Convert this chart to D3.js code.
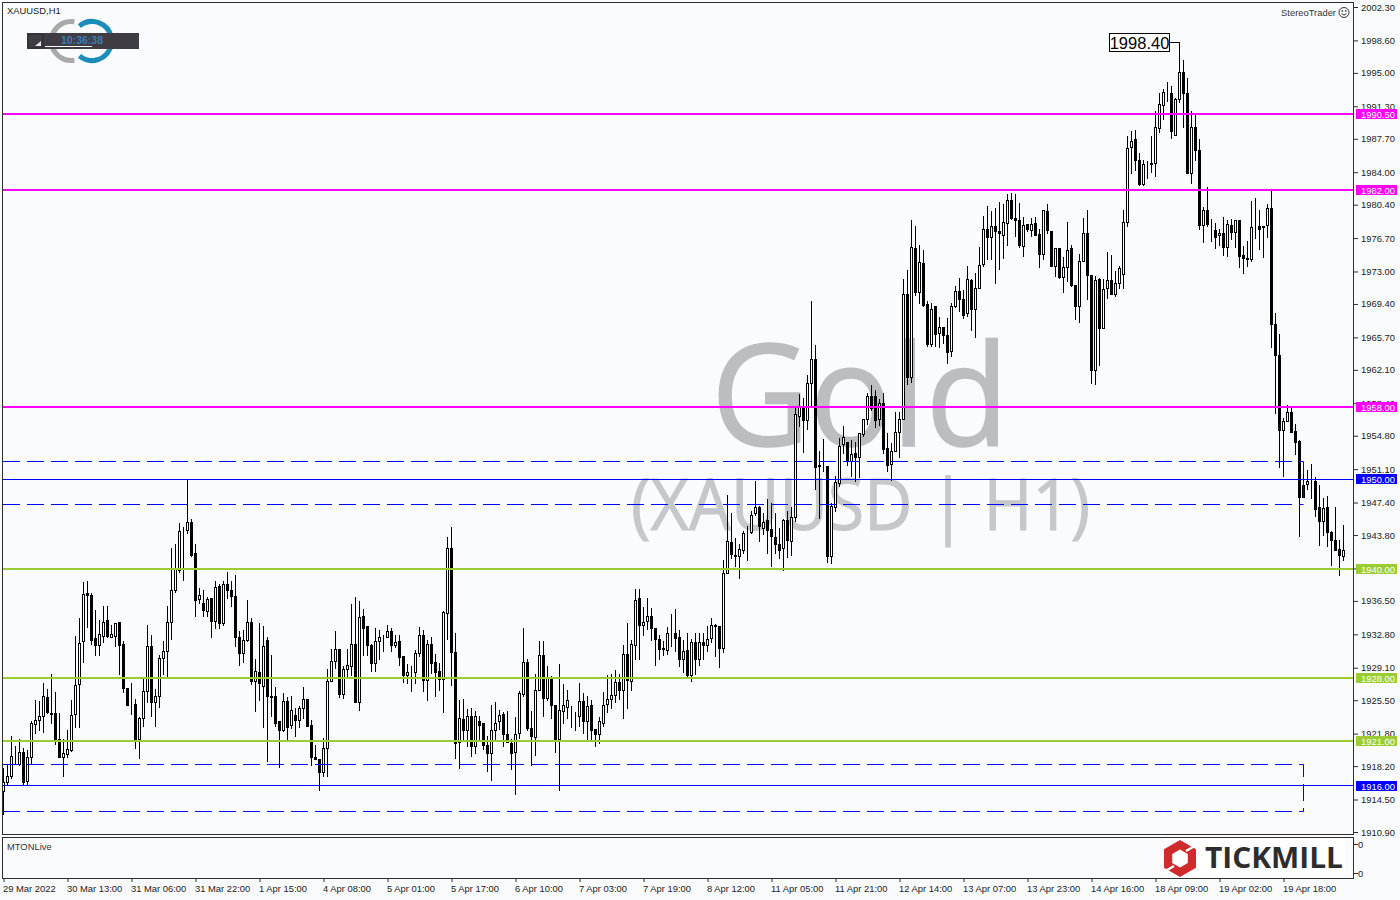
<!DOCTYPE html>
<html><head><meta charset="utf-8">
<script src="https://cdnjs.cloudflare.com/ajax/libs/d3/7.8.5/d3.min.js"></script>
<style>html,body{margin:0;padding:0;background:#f9fbfd;overflow:hidden}svg{display:block}text{font-family:"Liberation Sans",Arial,sans-serif}</style>
</head><body><svg id="c" width="1400" height="900"></svg>
<script>
const opens=[1915.4,1916.4,1917.0,1919.4,1918.4,1919.7,1916.5,1919.2,1922.8,1923.3,
1923.7,1925.8,1924.0,1924.0,1921.1,1919.2,1919.5,1919.9,1923.9,1927.2,
1932.0,1937.3,1937.1,1932.3,1931.6,1932.6,1934.3,1932.5,1932.6,1934.1,
1931.7,1926.8,1925.0,1925.0,1921.2,1923.5,1926.5,1931.5,1925.2,1925.9,
1930.1,1930.9,1934.1,1937.6,1939.9,1944.3,1944.3,1945.2,1941.7,1936.7,
1936.2,1935.3,1936.8,1934.2,1938.1,1934.0,1938.3,1937.7,1937.0,1932.5,
1930.7,1932.1,1934.1,1927.6,1928.6,1927.0,1932.1,1925.9,1925.9,1923.1,
1922.1,1925.4,1922.7,1923.8,1923.2,1924.6,1925.6,1922.7,1919.2,1918.9,
1917.5,1920.1,1927.6,1929.8,1931.1,1926.1,1928.9,1929.2,1931.7,1925.2,
1934.8,1933.7,1931.6,1929.6,1932.0,1932.5,1932.5,1933.1,1931.6,1932.0,
1930.3,1928.2,1928.6,1928.6,1930.7,1932.7,1927.7,1931.7,1929.7,1928.7,
1927.8,1935.1,1942.3,1930.8,1920.8,1923.4,1922.1,1923.7,1920.4,1923.1,
1922.9,1920.5,1919.6,1922.1,1923.1,1923.9,1921.7,1920.7,1919.7,1921.8,
1926.1,1929.7,1922.4,1921.4,1926.6,1930.5,1925.7,1927.9,1924.9,1921.1,
1924.3,1924.7,1923.7,1923.7,1923.7,1925.4,1923.1,1924.9,1922.3,1921.7,
1922.9,1925.0,1925.6,1926.0,1927.5,1926.6,1930.6,1927.6,1931.6,1936.8,
1933.8,1934.2,1934.8,1933.5,1932.2,1931.1,1931.0,1933.0,1932.9,1932.4,
1930.0,1931.0,1928.2,1931.9,1930.0,1931.9,1931.6,1932.3,1933.8,1933.7,
1931.2,1939.5,1943.0,1941.5,1941.4,1942.1,1944.0,1944.1,1946.2,1946.8,
1944.5,1945.4,1944.4,1943.5,1942.8,1942.3,1945.4,1943.1,1945.7,1956.9,
1958.0,1956.5,1960.6,1963.3,1951.5,1951.5,1951.4,1941.4,1946.9,1949.5,
1953.8,1954.0,1951.9,1952.8,1952.4,1954.9,1956.6,1959.2,1959.1,1956.6,
1958.4,1953.4,1951.6,1953.1,1955.2,1956.6,1970.5,1961.3,1975.6,1970.7,
1973.9,1969.3,1964.9,1969.1,1966.1,1966.8,1965.9,1964.1,1969.1,1970.8,
1969.9,1968.3,1972.0,1968.8,1971.1,1973.8,1977.7,1976.8,1978.0,1977.4,
1977.0,1978.3,1980.9,1978.9,1978.7,1975.8,1978.2,1977.5,1978.3,1977.1,
1974.9,1979.6,1977.4,1973.6,1975.6,1972.3,1973.4,1975.6,1971.4,1969.1,
1974.1,1977.2,1972.5,1962.0,1972.1,1966.7,1971.1,1972.0,1970.5,1971.7,
1972.7,1978.4,1986.7,1987.6,1985.3,1982.6,1984.9,1985.0,1985.0,1988.8,
1991.4,1992.8,1992.7,1988.1,1992.1,1995.0,1992.7,1983.9,1989.0,1986.4,
1978.1,1979.8,1978.3,1977.5,1977.0,1977.2,1975.7,1978.1,1977.3,1978.7,
1974.8,1974.4,1974.3,1978.0,1978.0,1978.0,1978.1,1980.0,1967.1,1963.7,
1955.4,1956.4,1957.4,1955.3,1954.2,1948.0,1949.4,1949.7,1949.7,1946.8,
1945.3,1946.8,1944.1,1943.2,1942.2,1941.4];
const closes=[1916.4,1917.1,1919.3,1919.4,1919.7,1916.4,1919.2,1922.9,1923.3,1923.7,
1925.9,1924.1,1923.9,1921.1,1919.2,1919.6,1920.0,1923.8,1927.1,1931.8,
1937.2,1937.1,1932.1,1931.6,1932.8,1934.1,1932.6,1932.8,1934.0,1931.6,
1926.8,1924.9,1925.0,1921.2,1923.5,1926.5,1931.4,1925.3,1925.9,1930.1,
1930.9,1934.1,1937.7,1940.0,1944.2,1944.3,1945.2,1941.5,1936.5,1937.1,
1935.4,1936.7,1934.2,1938.0,1934.0,1938.3,1937.6,1937.0,1932.4,1930.7,
1932.1,1934.1,1927.6,1928.7,1927.3,1931.4,1925.9,1925.8,1922.9,1922.1,
1925.4,1922.5,1924.4,1923.2,1924.6,1925.6,1922.6,1919.2,1918.9,1917.5,
1920.2,1927.6,1929.8,1931.1,1926.1,1928.9,1929.3,1931.7,1925.3,1934.7,
1933.5,1931.6,1929.6,1932.0,1932.4,1932.5,1933.1,1931.6,1931.9,1930.2,
1928.2,1928.6,1928.6,1930.7,1932.7,1927.7,1931.7,1929.6,1928.6,1927.8,
1935.2,1942.3,1930.8,1920.7,1923.5,1922.1,1923.7,1920.4,1923.7,1922.7,
1920.5,1919.6,1922.1,1922.9,1923.8,1921.7,1920.8,1919.6,1921.7,1926.2,
1929.7,1922.4,1921.5,1926.6,1930.5,1925.7,1927.9,1924.9,1921.1,1924.4,
1924.9,1925.5,1923.7,1923.7,1925.4,1923.1,1924.8,1922.2,1921.7,1923.1,
1924.9,1925.6,1926.0,1927.5,1926.6,1930.6,1927.7,1931.7,1936.6,1933.8,
1934.1,1934.8,1933.5,1932.2,1931.1,1931.2,1932.9,1933.0,1932.3,1930.0,
1930.9,1928.2,1931.9,1930.0,1931.9,1931.6,1932.2,1933.8,1933.7,1931.2,
1939.5,1943.1,1941.6,1941.4,1942.2,1944.0,1944.0,1946.0,1946.8,1944.7,
1945.2,1944.3,1943.6,1942.7,1942.1,1945.4,1943.2,1945.7,1957.1,1957.9,
1956.5,1960.6,1963.3,1951.3,1951.4,1951.5,1941.4,1947.0,1949.6,1953.6,
1954.6,1951.9,1952.7,1952.4,1955.0,1956.6,1959.1,1957.8,1956.5,1958.4,
1953.3,1951.5,1953.1,1955.2,1956.6,1970.5,1961.3,1975.7,1970.7,1974.0,
1969.2,1964.9,1968.8,1966.0,1966.8,1965.9,1964.0,1969.1,1970.8,1969.9,
1968.1,1972.1,1968.8,1971.1,1973.7,1977.7,1976.8,1978.0,1977.4,1977.2,
1978.4,1980.9,1978.9,1978.7,1975.9,1978.1,1977.6,1978.2,1977.0,1974.9,
1979.7,1977.5,1973.6,1975.6,1972.3,1973.4,1975.3,1971.4,1969.1,1974.1,
1977.2,1972.5,1962.0,1972.0,1966.7,1971.0,1972.0,1970.5,1971.7,1973.3,
1978.4,1986.6,1987.4,1985.3,1982.6,1984.9,1984.9,1984.8,1989.0,1991.5,
1992.8,1992.8,1988.5,1992.0,1995.0,1992.7,1983.9,1989.0,1986.4,1978.1,
1979.8,1978.2,1978.3,1976.8,1977.2,1975.7,1978.2,1977.3,1978.6,1974.7,
1974.4,1974.3,1977.9,1978.0,1977.7,1977.9,1980.0,1967.1,1963.7,1955.4,
1956.4,1957.4,1955.2,1954.0,1948.0,1949.3,1949.7,1949.7,1946.6,1945.3,
1946.7,1944.1,1943.2,1942.1,1941.5,1942.1];
const highs=[1917.9,1918.3,1921.5,1920.4,1921.2,1920.1,1919.9,1923.1,1925.5,1925.4,
1927.3,1926.7,1928.4,1926.4,1924.0,1921.1,1922.1,1925.5,1932.6,1934.6,
1938.5,1938.6,1937.3,1935.4,1934.3,1935.9,1935.9,1933.8,1934.0,1934.1,
1932.0,1926.8,1927.3,1925.6,1923.6,1927.9,1933.8,1932.7,1926.7,1930.4,
1932.0,1935.9,1942.3,1942.8,1945.1,1944.6,1949.8,1945.5,1942.7,1937.9,
1937.6,1936.9,1936.8,1938.6,1938.3,1938.7,1939.6,1938.7,1939.3,1933.1,
1933.2,1936.5,1934.6,1930.0,1934.0,1933.7,1932.5,1930.5,1926.9,1923.1,
1926.2,1925.8,1925.9,1924.6,1924.8,1926.9,1925.6,1923.2,1920.5,1918.9,
1921.3,1928.9,1931.1,1933.1,1931.1,1929.2,1931.1,1936.1,1936.9,1936.4,
1935.6,1933.7,1931.7,1933.4,1933.2,1932.7,1933.8,1933.5,1932.7,1932.7,
1930.3,1929.5,1929.2,1931.0,1933.6,1933.2,1932.1,1932.5,1930.6,1929.6,
1935.3,1943.5,1944.6,1932.9,1925.5,1925.6,1924.5,1924.6,1924.2,1923.7,
1922.9,1921.5,1924.9,1925.3,1924.4,1924.1,1924.3,1921.1,1923.6,1926.5,
1933.4,1930.0,1924.2,1928.4,1932.0,1932.0,1929.2,1928.1,1924.9,1929.5,
1927.2,1926.6,1924.8,1924.1,1927.3,1926.2,1925.9,1925.5,1922.3,1923.6,
1926.3,1928.2,1928.4,1928.8,1928.3,1931.6,1934.0,1932.1,1937.8,1937.8,
1935.8,1936.8,1935.7,1933.5,1932.7,1932.0,1933.6,1935.0,1935.5,1933.2,
1932.1,1932.9,1932.2,1932.9,1932.9,1932.9,1933.7,1934.6,1933.9,1933.7,
1941.0,1948.2,1946.2,1943.4,1942.7,1944.2,1944.8,1946.4,1949.7,1947.0,
1946.2,1947.7,1947.3,1946.2,1944.5,1945.5,1946.4,1946.9,1957.9,1959.4,
1958.9,1961.5,1969.7,1964.8,1953.1,1954.4,1951.4,1947.3,1950.3,1954.5,
1955.8,1954.0,1954.3,1954.0,1955.1,1956.6,1959.5,1960.4,1959.8,1958.8,
1959.5,1955.1,1953.9,1957.4,1957.4,1972.1,1973.1,1978.6,1978.0,1975.9,
1975.3,1969.7,1969.5,1969.1,1967.9,1966.8,1967.8,1969.4,1971.3,1972.2,
1970.9,1973.5,1972.1,1972.8,1975.7,1979.1,1980.2,1979.6,1980.0,1980.6,
1980.4,1981.5,1981.6,1981.5,1980.5,1979.0,1978.2,1978.9,1979.0,1977.6,
1979.8,1980.4,1977.4,1975.6,1975.6,1974.5,1978.4,1975.9,1971.4,1974.9,
1978.9,1979.8,1972.5,1972.4,1972.2,1972.1,1975.1,1974.8,1973.0,1973.5,
1979.7,1988.0,1988.5,1988.6,1986.1,1985.3,1985.2,1988.0,1990.7,1992.7,
1993.2,1993.9,1993.5,1992.2,1998.4,1996.4,1994.4,1990.7,1990.3,1987.6,
1980.1,1982.3,1978.8,1978.3,1977.7,1979.0,1978.7,1978.8,1978.7,1978.7,
1975.8,1976.3,1980.8,1981.1,1979.7,1978.0,1980.4,1981.9,1968.3,1966.0,
1956.7,1958.2,1957.8,1956.0,1954.3,1951.4,1950.9,1951.6,1950.2,1949.3,
1947.8,1948.1,1944.2,1946.8,1943.2,1944.9];
const lows=[1912.8,1916.0,1916.8,1918.5,1918.3,1916.2,1916.0,1918.5,1921.8,1922.1,
1921.9,1924.0,1922.9,1920.6,1919.2,1917.1,1919.2,1919.8,1922.5,1922.5,
1929.7,1933.6,1931.7,1930.4,1930.5,1931.9,1932.5,1932.5,1931.5,1928.3,
1926.4,1924.9,1923.9,1920.1,1919.0,1922.6,1925.3,1923.7,1922.6,1924.7,
1928.4,1928.1,1932.2,1937.4,1939.6,1938.8,1944.0,1941.4,1934.8,1936.2,
1934.8,1934.8,1932.4,1933.5,1933.4,1933.8,1936.8,1935.9,1931.5,1929.3,
1929.7,1932.0,1927.2,1924.2,1925.5,1922.5,1918.7,1923.7,1922.6,1918.0,
1922.0,1921.1,1922.4,1921.5,1922.5,1923.5,1922.6,1918.3,1918.9,1915.5,
1917.0,1917.1,1927.6,1929.0,1925.8,1925.7,1927.9,1928.2,1925.3,1924.4,
1930.4,1930.4,1928.7,1928.7,1930.0,1930.9,1932.5,1930.9,1931.3,1929.4,
1927.5,1927.4,1926.5,1927.4,1930.3,1926.5,1925.5,1928.5,1925.9,1926.6,
1924.1,1932.2,1927.1,1919.0,1917.9,1920.9,1920.4,1919.3,1919.6,1921.1,
1920.0,1917.6,1916.6,1921.1,1922.3,1920.4,1920.8,1917.8,1915.0,1921.3,
1925.9,1922.2,1918.3,1919.4,1926.6,1923.7,1925.5,1923.5,1919.7,1915.5,
1922.9,1923.5,1922.5,1922.1,1922.6,1921.8,1921.1,1921.1,1920.4,1920.7,
1922.6,1924.1,1924.6,1925.3,1925.6,1923.5,1924.6,1926.6,1930.0,1930.0,
1932.7,1933.3,1932.1,1929.4,1930.0,1930.5,1930.6,1931.4,1930.9,1929.2,
1928.6,1928.0,1927.6,1928.3,1929.4,1930.0,1930.9,1931.9,1930.3,1929.1,
1930.8,1939.5,1941.2,1940.3,1939.0,1941.8,1941.0,1944.0,1946.0,1943.1,
1943.9,1941.8,1940.3,1941.8,1941.2,1939.9,1941.3,1941.5,1945.3,1955.8,
1952.9,1955.5,1958.0,1948.9,1945.6,1950.8,1940.8,1940.7,1946.4,1949.2,
1952.8,1951.5,1950.3,1949.7,1950.2,1954.7,1956.0,1957.6,1955.7,1955.9,
1952.8,1950.8,1949.8,1953.1,1952.4,1956.6,1960.5,1960.7,1970.3,1969.5,
1969.1,1964.7,1964.7,1964.7,1964.6,1965.0,1962.8,1963.6,1969.0,1968.6,
1967.8,1968.0,1966.5,1965.7,1971.1,1973.6,1974.3,1974.3,1971.7,1973.2,
1974.4,1975.9,1978.8,1976.9,1975.7,1974.7,1977.4,1976.9,1977.0,1973.4,
1974.3,1977.2,1973.5,1972.4,1972.2,1970.7,1971.9,1971.3,1967.7,1967.3,
1974.1,1969.9,1960.6,1960.5,1962.6,1966.7,1970.0,1970.4,1970.2,1971.1,
1971.1,1978.0,1983.8,1984.2,1982.5,1982.5,1983.3,1984.0,1983.5,1988.4,
1989.8,1991.8,1987.7,1988.1,1991.7,1989.0,1983.9,1982.8,1985.3,1977.6,
1976.2,1978.0,1976.3,1975.6,1975.9,1974.8,1974.7,1976.5,1975.7,1973.4,
1972.8,1973.6,1974.1,1976.7,1975.4,1974.6,1976.8,1964.6,1957.3,1951.3,
1950.3,1956.4,1955.2,1952.7,1943.6,1948.0,1948.8,1947.8,1945.9,1942.6,
1943.7,1942.5,1940.4,1942.1,1939.3,1941.0];

const priceTicks=[2002.3,1998.6,1995.0,1991.3,1987.7,1984.0,1980.4,1976.7,1973.0,1969.4,1965.7,1962.1,1958.4,1954.8,1951.1,1947.4,1943.8,1940.1,1936.5,1932.8,1929.1,1925.5,1921.8,1918.2,1914.5,1910.9];
const timeLabels=["29 Mar 2022","30 Mar 13:00","31 Mar 06:00","31 Mar 22:00","1 Apr 15:00","4 Apr 08:00","5 Apr 01:00","5 Apr 17:00","6 Apr 10:00","7 Apr 03:00","7 Apr 19:00","8 Apr 12:00","11 Apr 05:00","11 Apr 21:00","12 Apr 14:00","13 Apr 07:00","13 Apr 23:00","14 Apr 16:00","18 Apr 09:00","19 Apr 02:00","19 Apr 18:00"];
const levelPrices=[1990.5,1982,1958,1950,1940,1928,1921,1916];
const levelKinds=["res","res","res","mid","sup","sup","sup","mid"];
const zoneTops=[1951.95,1918.4];
const zoneBottoms=[1947.2,1913.2];
const peakPrice=1998.4, peakIndex=294;

const levelColor={res:"#ff00ff",sup:"#9acd32",mid:"#0000ff"};
const svg=d3.select("#c");
const ink="#2e2e2e", fs=9.4;
const x=d3.scaleLinear().domain([0,335]).range([3.5,1343.5]);
const y=d3.scaleLinear().domain([1910.9,2002.3]).range([832,7]);
const snap=v=>Math.floor(v)+.5;
const left=3,right=1354;

// watermark
svg.append("text").attr("x",711).attr("y",446).attr("font-size",141).attr("fill","#bcbdc0").attr("stroke","#bcbdc0").attr("stroke-width",1.5).attr("textLength",298).attr("lengthAdjust","spacingAndGlyphs").style("font-family","'Open Sans'").text("Gold");
svg.append("text").attr("x",631).attr("y",530).attr("font-size",72).attr("fill","#c6c7ca").attr("stroke","#c6c7ca").attr("stroke-width",1).attr("textLength",459).attr("lengthAdjust","spacingAndGlyphs").style("font-family","'Open Sans'").text("(XAUUSD | H1)");

// ring logo
const ringArc=d3.arc().innerRadius(17).outerRadius(22);
const deg=Math.PI/180;
const logo=svg.append("g");
[[-125,10],[170,305]].forEach(a=>logo.append("path").attr("transform","translate(71,41)").attr("d",ringArc({startAngle:a[0]*deg,endAngle:a[1]*deg})).attr("fill","#a9a9a9"));
[[-40,80],[100,220]].forEach(a=>logo.append("path").attr("transform","translate(92,41)").attr("d",ringArc({startAngle:a[0]*deg,endAngle:a[1]*deg})).attr("fill","#1c8cb8"));
svg.append("rect").attr("x",27).attr("y",33).attr("width",112).attr("height",16).attr("fill","#403c44");
svg.append("rect").attr("x",28).attr("y",34).attr("width",15).attr("height",14).attr("fill","#403c44").attr("stroke","#2a2a2e");
svg.append("path").attr("d","M35 46L41 46L41 41Z").attr("fill","#e8e8e8");
svg.append("line").attr("x1",45).attr("x2",92).attr("y1",46.5).attr("y2",46.5).attr("stroke","#fff");
svg.append("text").attr("x",82).attr("y",44).attr("text-anchor","middle").attr("font-size",10.5).attr("font-weight","bold").attr("fill","#3f7db5").text("10:36:38");

// candles
const idx=d3.range(opens.length);
const candles=svg.append("g");
candles.selectAll("line").data(idx).join("line")
 .attr("x1",i=>snap(x(i))).attr("x2",i=>snap(x(i)))
 .attr("y1",i=>Math.floor(y(highs[i]))).attr("y2",i=>Math.ceil(y(lows[i])))
 .attr("stroke","#000");
candles.selectAll("rect").data(idx).join("rect")
 .attr("x",i=>snap(x(i))-1).attr("width",2)
 .attr("y",i=>snap(y(Math.max(opens[i],closes[i]))))
 .attr("height",i=>snap(y(Math.min(opens[i],closes[i])))-snap(y(Math.max(opens[i],closes[i]))))
 .attr("stroke","#000").attr("fill",i=>closes[i]>=opens[i]?"#fff":"#000");

// dashed zones
zoneTops.forEach((t,k)=>{
  const b=zoneBottoms[k], g=svg.append("g").attr("fill","none").attr("stroke","#0000ff").attr("stroke-dasharray","17 7");
  g.append("path").attr("d",`M${left} ${snap(y(t))}H1303.5V${snap(y(b))}`);
  g.append("path").attr("d",`M${left} ${snap(y(b))}H1303.5`);
});
// level lines
levelPrices.forEach((p,k)=>{
  const kind=levelKinds[k], w=kind==="mid"?1:2, yy=kind==="mid"?snap(y(p)):Math.round(y(p));
  svg.append("line").attr("x1",left).attr("x2",right).attr("y1",yy).attr("y2",yy).attr("stroke",levelColor[kind]).attr("stroke-width",w);
});

// peak callout
const peakX=snap(x(peakIndex)), peakY=y(peakPrice);
svg.append("path").attr("d",`M1170 ${snap(peakY)}H${peakX}V72`).attr("fill","none").attr("stroke","#000");
svg.append("rect").attr("x",1109.5).attr("y",33.5).attr("width",60).attr("height",18).attr("fill","#fff").attr("stroke","#000");
svg.append("text").attr("x",1139.5).attr("y",49).attr("text-anchor","middle").attr("font-size",16.5).attr("fill","#000").text(d3.format(".2f")(peakPrice));

// frames
svg.append("rect").attr("x",2.5).attr("y",2.5).attr("width",1351).attr("height",832).attr("fill","none").attr("stroke",ink);
svg.append("rect").attr("x",2.5).attr("y",837.5).attr("width",1351).attr("height",41).attr("fill","none").attr("stroke",ink);

// axes
const axisR=d3.axisRight(y).tickValues(priceTicks).tickFormat(d3.format(".2f")).tickSize(4).tickPadding(3);
const gy=svg.append("g").attr("transform","translate(1354,0)").call(axisR);
gy.select(".domain").remove();
gy.selectAll("line").attr("stroke",ink);
gy.selectAll("text").attr("font-size",fs).attr("fill","#222").style("font-family","'Liberation Sans'");

const axisB=d3.axisBottom(x).tickValues(timeLabels.map((_,k)=>k*16)).tickFormat((d,k)=>timeLabels[k]).tickSize(3).tickPadding(3);
const gx=svg.append("g").attr("transform","translate(0,879)").call(axisB);
gx.select(".domain").remove();
gx.selectAll("line").attr("stroke",ink);
gx.selectAll("text").attr("font-size",fs).attr("fill","#222").attr("text-anchor","start").attr("dx",-1);

// price labels
levelPrices.forEach((p,k)=>{
  const c=levelColor[levelKinds[k]], yc=Math.round(y(p));
  svg.append("rect").attr("x",1356).attr("y",yc-5).attr("width",41).attr("height",10).attr("fill",c);
  svg.append("text").attr("x",1361).attr("y",yc+3.5).attr("font-size",fs).attr("fill","#fff").text(d3.format(".2f")(p));
});

// sub window
svg.append("text").attr("x",7).attr("y",850).attr("font-size",fs).attr("fill","#333").text("MTONLive");
[844,873].forEach(v=>{
  svg.append("line").attr("x1",1354).attr("x2",1358).attr("y1",v+.5).attr("y2",v+.5).attr("stroke",ink);
  svg.append("text").attr("x",1358).attr("y",v+4).attr("font-size",fs).attr("fill","#222").text("0");
});
// header texts
svg.append("text").attr("x",7).attr("y",14).attr("font-size",fs).attr("fill","#222").text("XAUUSD,H1");
svg.append("text").attr("x",1336).attr("y",15.5).attr("text-anchor","end").attr("font-size",fs).attr("fill","#333").text("StereoTrader");
const sm=svg.append("g").attr("transform","translate(1344,12.5)").attr("fill","none").attr("stroke","#333");
sm.append("circle").attr("r",5);
sm.append("path").attr("d","M-2.5 1.2Q0 4 2.5 1.2");
sm.append("circle").attr("cx",-1.8).attr("cy",-1.5).attr("r",.5);
sm.append("circle").attr("cx",1.8).attr("cy",-1.5).attr("r",.5);

// Tickmill logo
svg.append("rect").attr("x",1164).attr("y",838).attr("width",181).attr("height",40).attr("fill","#fff");
const hex=(cx,cy,r)=>d3.range(6).map(k=>{const a=(k*60-90)*deg;return [cx+r*Math.cos(a),cy+r*Math.sin(a)];});
const hexPath=p=>"M"+p.map(q=>q.join(",")).join("L")+"Z";
svg.append("path").attr("d",hexPath(hex(1180,858.5,18.5))+hexPath(hex(1180,858.5,9))).attr("fill-rule","evenodd").attr("fill","#cf2a2c");
svg.append("path").attr("d","M1186 851L1198 844M1174 866L1162 873").attr("stroke","#fff").attr("stroke-width",2.5);
svg.append("text").attr("x",1205).attr("y",868).attr("font-size",28).attr("font-weight","bold").attr("fill","#2d2d2d").attr("textLength",138).attr("lengthAdjust","spacingAndGlyphs").style("font-family","'Open Sans'").text("TICKMILL");
</script></body></html>
